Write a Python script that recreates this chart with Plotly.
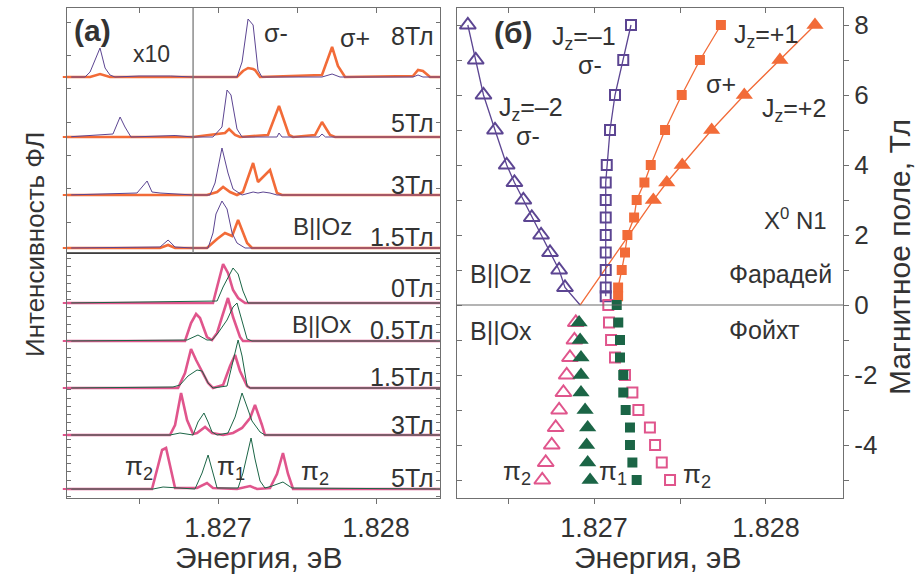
import plotly.graph_objects as go

# ---------------------------------------------------------------------------
# Data
# ---------------------------------------------------------------------------
E_REF = 1.827          # eV, spectra are stored as detuning from this energy (µeV)
X10_EDGE = -158        # µeV; in the Faraday spectra everything below is shown x10

# Faraday geometry (B || Oz): sigma- (thin) and sigma+ (thick) spectra
far_labels = ["8Тл", "5Тл", "3Тл", "1.5Тл"]
far_offsets = [176, 116, 58, 5]

far_sm_de = [
    [-960, -842, -810, -747, -715, -684, -652, -500, -300, -158, 120, 152, 190, 222, 253, 278, 658, 722, 772, 1234, 1266, 1297, 1410],
    [-960, -665, -620, -589, -551, -272, -158, -32, 25, 57, 82, 120, 152, 373, 386, 405, 640, 658, 680, 1410],
    [-960, -513, -449, -418, -367, -241, -158, -51, -19, 25, 63, 95, 152, 222, 253, 285, 329, 373, 1410],
    [-960, -367, -316, -272, -158, -63, -32, -13, 25, 57, 89, 120, 171, 1410],
]
far_sm_int = [
    [0, 0, 0.5, 2.9, 0.9, 0.2, 0, 0.1, 0.1, 0, 0, 15, 58, 52, 7, 0, 0, 3, 0, 0, 2, 0, 0],
    [0, 0.3, 2.0, 1.0, 0, 0.15, 0, 0, 10, 47, 42, 8, 0, 0, 4, 0, 0, 3, 0, 0],
    [0, 0.2, 1.4, 0.3, 0.2, 0.1, 0, 0, 12, 47, 22, 6, 0, 3, 2, 3, 2, 0, 0],
    [0, 0.1, 0.8, 0.1, 0, 0, 15, 34, 47, 39, 15, 5, 0, 0],
]
far_sp_de = [
    [-960, -810, -747, -684, -158, 120, 158, 190, 222, 234, 266, 658, 722, 759, 804, 1234, 1266, 1297, 1342, 1410],
    [-960, -158, 44, 70, 108, 139, 316, 386, 449, 475, 614, 658, 709, 741, 1410],
    [-960, -158, -70, -6, 32, 76, 120, 158, 222, 253, 329, 373, 405, 1410],
    [-960, -367, -316, -272, -158, -70, -6, 44, 89, 127, 184, 215, 1410],
]
far_sp_int = [
    [0, 0, 0.3, 0, 0, 0, 6, 9, 8, 7, 0, 2, 30, 11, 0, 1, 7, 6, 0, 0],
    [0, 0, 4, 8, 2, 0, 2, 31, 2, 0, 2, 15, 2, 0, 0],
    [0, 0, 0, 3, 8, 3, 0, 3, 32, 13, 25, 2, 0, 0],
    [0, 0, 0.3, 0, 0, 0, 9, 15, 12, 28, 5, 0, 0],
]

# Voigt geometry (B || Ox): two linear polarisations
voi_labels = ["0Тл", "0.5Тл", "1.5Тл", "3Тл", "5Тл"]
voi_offsets = [195, 157, 110, 63, 9]

voi_a_de = [
    [-960, -32, -6, 32, 63, 95, 127, 171, 1410],
    [-960, -209, -171, -139, -114, -70, -38, -6, 25, 63, 95, 139, 158, 1410],
    [-960, -253, -209, -171, -139, -101, -63, -32, 32, 76, 108, 139, 184, 203, 1410],
    [-960, -304, -272, -234, -196, -158, -133, -82, -38, 32, 95, 152, 203, 234, 278, 297, 1410],
    [-960, -418, -380, -354, -329, -304, -272, -133, -70, -32, 120, 203, 247, 329, 373, 411, 443, 475, 1410],
]
voi_a_int = [
    [0, 0, 16, 39, 30, 13, 5, 0, 0],
    [0, 0, 18, 27, 23, 4, 1, 8, 24, 43, 24, 4, 0, 0],
    [0, 0, 15, 39, 28, 17, 5, 0, 3, 22, 33, 17, 2, 0, 0],
    [0, 0, 10, 42, 15, 1, 2, 8, 2, 0, 2, 7, 17, 30, 10, 0, 0],
    [0, 0, 23, 39, 41, 23, 1, 1, 6, 1, 0, 3, 0, 1, 15, 36, 15, 0, 0],
]
voi_b_de = [
    [-960, -6, 32, 63, 95, 127, 158, 190, 1410],
    [-960, -196, -127, -70, -38, 0, 57, 95, 120, 152, 184, 215, 1410],
    [-960, -285, -241, -190, -133, -101, -63, -32, 57, 95, 127, 152, 184, 203, 1410],
    [-960, -304, -241, -158, -127, -89, -63, -38, -6, 63, 108, 152, 184, 215, 266, 297, 1410],
    [-960, -411, -348, -272, -146, -101, -63, -32, -6, 127, 158, 209, 234, 266, 297, 342, 411, 468, 1410],
]
voi_b_int = [
    [0, 2, 16, 26, 35, 29, 12, 0, 0],
    [0, 1, 6, 1, 1, 8, 21, 34, 38, 21, 2, 0, 0],
    [0, 1, 3, 12, 18, 17, 5, 0, 2, 28, 48, 32, 2, 0, 0],
    [0, 0, 2, 0, 13, 22, 13, 3, 0, 2, 18, 42, 28, 14, 3, 0, 0],
    [0, 0, 2, 1, 0, 16, 34, 16, 1, 1, 16, 51, 30, 8, 1, 3, 7, 1, 0],
]

# Line positions vs magnetic field (Faraday B > 0, Voigt B < 0)
E0 = 1.826919  # crossing point of the Jz=±2 guides at B = 0

jm2_B = [8, 7, 6, 5, 4, 3.5, 3, 2.5, 2, 1.5, 1, 0.5]
jm2_E = [1.826266, 1.826312, 1.826357, 1.826424, 1.826492, 1.826537,
         1.826589, 1.826638, 1.826692, 1.826744, 1.826797, 1.826831]
jm1_B = [8, 7, 6, 5, 4, 3.5, 3, 2.5, 2, 1.5, 1, 0.5, 0.25]
jm1_E = [1.827215, 1.827170, 1.827122, 1.827093, 1.827074, 1.827068, 1.827068,
         1.827068, 1.827068, 1.827068, 1.827068, 1.827068, 1.827068]
jp1_B = [8, 7, 6, 5, 4, 3.5, 3, 2.5, 2, 1.5, 1, 0.5, 0.25]
jp1_E = [1.827738, 1.827616, 1.827510, 1.827413, 1.827330, 1.827293, 1.827248,
         1.827233, 1.827194, 1.827180, 1.827161, 1.827140, 1.827140]
jp2_B = [8, 7, 6, 5, 4, 3.5, 3]
jp2_E = [1.828285, 1.828081, 1.827874, 1.827684, 1.827513, 1.827423, 1.827345]

voigt_B = [-0.5, -1, -1.5, -2, -2.5, -3, -3.5, -4, -4.5, -5]
pi2_lo_E = [1.826894, 1.826886, 1.826860, 1.826841, 1.826822, 1.826797,
            1.826777, 1.826754, 1.826719, 1.826699]
pi1_lo_E = [1.826913, 1.826919, 1.826924, 1.826924, 1.826924, 1.826948,
            1.826963, 1.826957, 1.826963, 1.826977]
voigt_B0 = [0, -0.5, -1, -1.5, -2, -2.5, -3, -3.5, -4, -4.5, -5]
pi1_hi_E = [1.827132, 1.827141, 1.827151, 1.827151, 1.827170, 1.827170,
            1.827184, 1.827209, 1.827209, 1.827223, 1.827248]
pi2_hi_E = [1.827083, 1.827087, 1.827099, 1.827122, 1.827180, 1.827223,
            1.827258, 1.827325, 1.827355, 1.827394, 1.827442]

# ---------------------------------------------------------------------------
# Style
# ---------------------------------------------------------------------------
FONT = "Liberation Sans, Arial, sans-serif"
TEXT = "#333333"
AXIS = "#707070"
PURPLE = "#5c4592"
ORANGE = "#f26b38"
PINK = "#e0558c"
GREEN = "#1b6546"

W, H = 923, 583


def px(x):
    return x / W


def py(y):
    return 1 - y / H


LX = [px(67), px(440)]
RX = [px(457), px(843)]
Y_BOT, Y_MID, Y_TOP = py(498), py(253), py(8)

left_range = [E_REF - 956e-6, E_REF + 1405e-6]
right_range = [E_REF - 797e-6, E_REF + 1448e-6]


def energies(de):
    return [E_REF + d * 1e-6 for d in de]


fig = go.Figure()

# Faraday spectra (upper left)
for off, de_m, i_m, de_p, i_p in zip(far_offsets, far_sm_de, far_sm_int, far_sp_de, far_sp_int):
    ym = [off + (v * 10 if d < X10_EDGE else v) for d, v in zip(de_m, i_m)]
    yp = [off + (v * 10 if d < X10_EDGE else v) for d, v in zip(de_p, i_p)]
    fig.add_trace(go.Scatter(x=energies(de_p), y=yp, mode="lines",
                             line=dict(color=ORANGE, width=2.6), xaxis="x2", yaxis="y2",
                             showlegend=False, hoverinfo="skip"))
    fig.add_trace(go.Scatter(x=energies(de_m), y=ym, mode="lines",
                             line=dict(color=PURPLE, width=1.0), xaxis="x2", yaxis="y2",
                             showlegend=False, hoverinfo="skip"))

# Voigt spectra (lower left)
for off, de_a, i_a, de_b, i_b in zip(voi_offsets, voi_a_de, voi_a_int, voi_b_de, voi_b_int):
    fig.add_trace(go.Scatter(x=energies(de_a), y=[off + v for v in i_a], mode="lines",
                             line=dict(color=PINK, width=2.6), xaxis="x", yaxis="y",
                             showlegend=False, hoverinfo="skip"))
    fig.add_trace(go.Scatter(x=energies(de_b), y=[off + v for v in i_b], mode="lines",
                             line=dict(color=GREEN, width=1.0), xaxis="x", yaxis="y",
                             showlegend=False, hoverinfo="skip"))

# zero-level marks on the intensity axis for each spectrum
fig.add_trace(go.Scatter(x=[left_range[0]] * len(far_offsets), y=far_offsets, mode="markers",
                         marker=dict(symbol="line-ew", size=6, line=dict(width=2, color=ORANGE)),
                         cliponaxis=False, xaxis="x2", yaxis="y2",
                         showlegend=False, hoverinfo="skip"))
fig.add_trace(go.Scatter(x=[left_range[0]] * len(voi_offsets), y=voi_offsets, mode="markers",
                         marker=dict(symbol="line-ew", size=6, line=dict(width=2, color=PINK)),
                         cliponaxis=False, xaxis="x", yaxis="y",
                         showlegend=False, hoverinfo="skip"))

# Fan diagram (right)
R = dict(xaxis="x3", yaxis="y3", showlegend=False, hoverinfo="skip")
fig.add_trace(go.Scatter(x=jm2_E + [E0], y=jm2_B + [0], mode="lines",
                         line=dict(color=PURPLE, width=1.3), **R))
fig.add_trace(go.Scatter(x=jp2_E + [E0], y=jp2_B + [0], mode="lines",
                         line=dict(color=ORANGE, width=1.3), **R))
fig.add_trace(go.Scatter(x=jm1_E, y=jm1_B, mode="lines",
                         line=dict(color=PURPLE, width=1.3), **R))
fig.add_trace(go.Scatter(x=jp1_E, y=jp1_B, mode="lines",
                         line=dict(color=ORANGE, width=1.3), **R))

fig.add_trace(go.Scatter(x=jm2_E, y=jm2_B, mode="markers",
                         marker=dict(symbol="triangle-up-open", size=14, color=PURPLE,
                                     line=dict(width=2, color=PURPLE)), **R))
fig.add_trace(go.Scatter(x=jm1_E, y=jm1_B, mode="markers",
                         marker=dict(symbol="square-open", size=10, color=PURPLE,
                                     line=dict(width=2, color=PURPLE)), **R))
fig.add_trace(go.Scatter(x=jp1_E, y=jp1_B, mode="markers",
                         marker=dict(symbol="square", size=10, color=ORANGE,
                                     line=dict(width=0)), **R))
fig.add_trace(go.Scatter(x=jp2_E, y=jp2_B, mode="markers",
                         marker=dict(symbol="triangle-up", size=15, color=ORANGE,
                                     line=dict(width=0)), **R))

fig.add_trace(go.Scatter(x=pi2_lo_E, y=voigt_B, mode="markers",
                         marker=dict(symbol="triangle-up-open", size=14, color=PINK,
                                     line=dict(width=2, color=PINK)), **R))
fig.add_trace(go.Scatter(x=pi2_hi_E, y=voigt_B0, mode="markers",
                         marker=dict(symbol="square-open", size=10, color=PINK,
                                     line=dict(width=2, color=PINK)), **R))
fig.add_trace(go.Scatter(x=pi1_lo_E, y=voigt_B, mode="markers",
                         marker=dict(symbol="triangle-up", size=15, color=GREEN,
                                     line=dict(width=0)), **R))
fig.add_trace(go.Scatter(x=pi1_hi_E, y=voigt_B0, mode="markers",
                         marker=dict(symbol="square", size=10, color=GREEN,
                                     line=dict(width=0)), **R))

# empty trace that carries the inner-tick overlay axes of the right panel
fig.add_trace(go.Scatter(x=[None], y=[None], xaxis="x4", yaxis="y4",
                         showlegend=False, hoverinfo="skip"))

# ---------------------------------------------------------------------------
# Axes
# ---------------------------------------------------------------------------
e_major = [1.827, 1.828]
e_labels = ["1.827", "1.828"]
base = dict(showline=True, linecolor=AXIS, linewidth=1.2, showgrid=False,
            zeroline=False, ticklen=5, tickcolor=AXIS, tickwidth=1,
            tickfont=dict(family=FONT, size=27, color=TEXT))


def minor(step, side, start=0):
    return dict(ticks=side, dtick=step, tick0=start, ticklen=5,
                tickcolor=AXIS, tickwidth=1, showgrid=False)


b_major = [-4, -2, 0, 2, 4, 6, 8]
b_labels = [str(b) for b in b_major]

fig.update_layout(
    xaxis=dict(base, domain=LX, anchor="y", range=left_range, tickvals=e_major,
               ticktext=e_labels, ticks="outside", minor=minor(0.0005, "outside", E_REF)),
    yaxis=dict(base, domain=[Y_BOT, Y_MID], anchor="x", range=[0, 245], ticks="inside",
               tick0=1.5, dtick=8.2, showticklabels=False, mirror="ticks", ticklen=4),
    xaxis2=dict(base, domain=LX, anchor="y2", matches="x", side="top", ticks="inside",
                tickvals=e_major, showticklabels=False, mirror=True,
                minor=minor(0.0005, "inside", E_REF)),
    yaxis2=dict(base, domain=[Y_MID, Y_TOP], anchor="x2", range=[0, 245], ticks="inside",
                tick0=-2.3, dtick=33.3, showticklabels=False, mirror="ticks", ticklen=4),
    xaxis3=dict(base, domain=RX, anchor="y3", range=right_range, tickvals=e_major,
                ticktext=e_labels, ticks="outside", minor=minor(0.0005, "outside", E_REF)),
    yaxis3=dict(base, domain=[Y_BOT, Y_TOP], anchor="x3", side="right",
                range=[-5.514, 8.486], tickvals=b_major, ticktext=b_labels, ticks="outside",
                tickfont=dict(family=FONT, size=26, color=TEXT), minor=minor(1, "outside")),
    xaxis4=dict(base, overlaying="x3", matches="x3", anchor="y3", side="top",
                ticks="inside", tickvals=e_major, showticklabels=False,
                minor=minor(0.0005, "inside", E_REF)),
    yaxis4=dict(base, overlaying="y3", matches="y3", anchor="x3", side="left",
                ticks="inside", tickvals=b_major, showticklabels=False,
                minor=minor(1, "inside")),
)

# ---------------------------------------------------------------------------
# Reference lines
# ---------------------------------------------------------------------------
fig.add_shape(type="line", xref="paper", yref="paper", x0=LX[0], x1=LX[1],
              y0=Y_MID, y1=Y_MID, line=dict(color="#2e2e2e", width=1.6))
fig.add_shape(type="line", xref="x2", yref="y2 domain",
              x0=E_REF + X10_EDGE * 1e-6, x1=E_REF + X10_EDGE * 1e-6, y0=0, y1=1,
              line=dict(color="#7a7a7a", width=1.3))
fig.add_shape(type="line", xref="x3 domain", yref="y3", x0=0, x1=1, y0=0, y1=0,
              line=dict(color="#6a6a6a", width=1.1))

# ---------------------------------------------------------------------------
# Text
# ---------------------------------------------------------------------------
notes = []


def note(text, x, y, size=25, anchor="center", angle=0):
    notes.append(dict(text=text, x=px(x), y=py(y), xref="paper", yref="paper",
                      xanchor=anchor, yanchor="middle", showarrow=False, textangle=angle,
                      font=dict(family=FONT, size=size, color=TEXT)))


far_label_y = [36, 123, 185, 237]
voi_label_y = [288, 330, 377, 425, 478]

note("<b>(a)</b>", 92, 30, 30)
note("x10", 151, 54, 23)
note("σ-", 276, 33, 25)
note("σ+", 355, 38, 25)
for lab, yl in zip(far_labels, far_label_y):
    note(lab, 436, yl, 25, "right")
note("B||Oz", 322, 226, 24)
for lab, yl in zip(voi_labels, voi_label_y):
    note(lab, 436, yl, 25, "right")
note("B||Ox", 321, 324, 24)
note("π<sub>2</sub>", 139, 467, 26)
note("π<sub>1</sub>", 231, 467, 26)
note("π<sub>2</sub>", 315, 472, 26)

note("<b>(б)</b>", 513, 33, 30)
note("J<sub>z</sub>=–1", 550, 38, 25, "left")
note("σ-", 590, 65, 25)
note("J<sub>z</sub>=–2", 497, 109, 25, "left")
note("σ-", 528, 136, 25)
note("J<sub>z</sub>=+1", 732, 36, 25, "left")
note("σ+", 721, 84, 25)
note("J<sub>z</sub>=+2", 760, 110, 25, "left")
note("X<sup>0</sup> N1", 762, 219, 24, "left")
note("Фарадей", 727, 274, 25, "left")
note("Фойхт", 727, 330, 25, "left")
note("B||Oz", 468, 274, 25, "left")
note("B||Ox", 468, 331, 25, "left")
note("π<sub>2</sub>", 517, 472, 26)
note("π<sub>1</sub>", 613, 472, 26)
note("π<sub>2</sub>", 697, 475, 26)

note("Энергия, эВ", 258, 557, 30)
note("Энергия, эВ", 657, 557, 30)
note("Интенсивность ФЛ", 35, 245, 26, angle=-90)
note("Магнитное поле, Тл", 899, 257, 30, angle=-90)

fig.update_layout(
    annotations=notes,
    width=W, height=H,
    margin=dict(l=0, r=0, t=0, b=0),
    paper_bgcolor="white", plot_bgcolor="white",
    showlegend=False,
    font=dict(family=FONT, color=TEXT),
)

fig.write_html("out.html")
